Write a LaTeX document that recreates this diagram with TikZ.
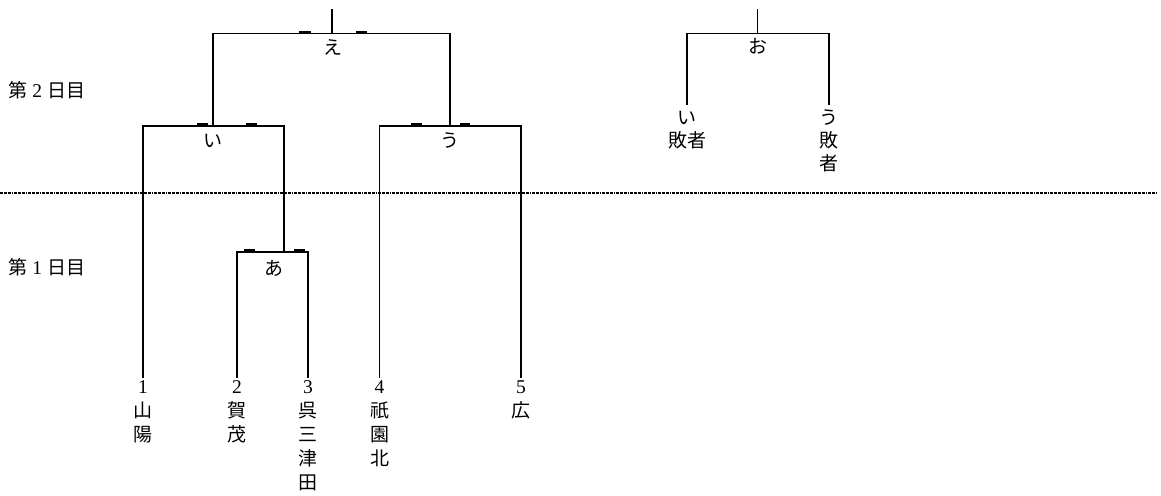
\documentclass[tikz,border=0pt]{standalone}
\usepackage{fontspec}
\newfontfamily\jp{Noto Sans CJK JP}
\newfontfamily\dgfont{Liberation Serif}
\begin{document}
\begin{tikzpicture}[x=1pt,y=-1pt,
  line/.style={line width=1.8pt,line cap=rect},
  tick/.style={line width=2.6pt},
  dayline/.style={line width=1.3pt,dash pattern=on 3pt off 1pt on 3pt off 1pt on 3pt off 1pt on 1pt off 1pt},
  lbl/.style={inner sep=0pt,anchor=base,font=\jp\fontsize{19}{23}\selectfont},
  team/.style={inner sep=0pt,anchor=north,align=center,font=\jp\fontsize{19}{24}\selectfont},
  loser/.style={inner sep=0pt,anchor=north,align=center,font=\jp\fontsize{19}{23}\selectfont},
  day/.style={inner sep=0pt,anchor=base west,font=\jp\fontsize{19}{23}\selectfont}]
\useasboundingbox (0,0) rectangle (1161,495);
\newcommand{\dg}[1]{{\dgfont\fontsize{19.5}{24}\selectfont #1}}
\newcommand{\fst}{\rule{0pt}{16pt}}
\newcommand{\lst}{\rule{0pt}{20pt}}

% day labels and separator
\node[day] (d2) at (8,97.5) {第\makebox[20pt]{\dg{2}}日目};
\node[day] (d1) at (8,274.5) {第\makebox[20pt]{\dg{1}}日目};
\coordinate (sepL) at (0,193);
\coordinate (sepR) at (1157,193);
\draw[dayline] (sepL) -- (sepR);

% teams
\node[team] (t1) at (143,377) {\fst\dg{1}\\山\\陽};
\node[team] (t2) at (237,377) {\fst\dg{2}\\賀\\茂};
\node[team] (t3) at (308,377) {\fst\dg{3}\\呉\\三\\津\\田};
\node[team] (t4) at (379.5,377) {\fst\dg{4}\\祇\\園\\北};
\node[team] (t5) at (521,377) {\fst\dg{5}\\広};

% losers
\node[loser] (l1) at (687,104) {\lst い\\敗者};
\node[loser] (l2) at (829,104) {\lst う\\敗\\者};

% match points
\coordinate (mA) at (272.5,252);
\coordinate (jA) at (284,252);
\coordinate (mI) at (213,126);
\coordinate (mU) at (450,126);
\coordinate (mE) at (332,33.5);
\coordinate (topE) at (332,10);
\coordinate (mO) at (757.5,33.5);
\coordinate (topO) at (757.5,10);

% brackets
\draw[line] (t2.north) |- (mA) -| (t3.north);
\draw[line] (t1.north) |- (mI) -| (jA);
\draw[line] (t4.north) |- (mU) -| (t5.north);
\draw[line] (mI) |- (mE) -| (mU);
\draw[line] (mE) -- (topE);
\draw[line] (l1.north) |- (mO) -| (l2.north);
\draw[line] (mO) -- (topO);

% ticks
\draw[tick] (299,32) -- (311,32) (356,32) -- (367,32);
\draw[tick] (197,124.5) -- (208,124.5) (246,124.5) -- (257,124.5);
\draw[tick] (411,124.5) -- (422,124.5) (460,124.5) -- (470,124.5);
\draw[tick] (244,250.5) -- (255,250.5) (294,250.5) -- (305,250.5);

% match labels
\node[lbl] (nE) at (333,55) {え};
\node[lbl] (nO) at (758,54) {お};
\node[lbl] (nI) at (213,147) {い};
\node[lbl] (nU) at (450,147) {う};
\node[lbl] (nA) at (274,275) {あ};
\end{tikzpicture}
\end{document}
